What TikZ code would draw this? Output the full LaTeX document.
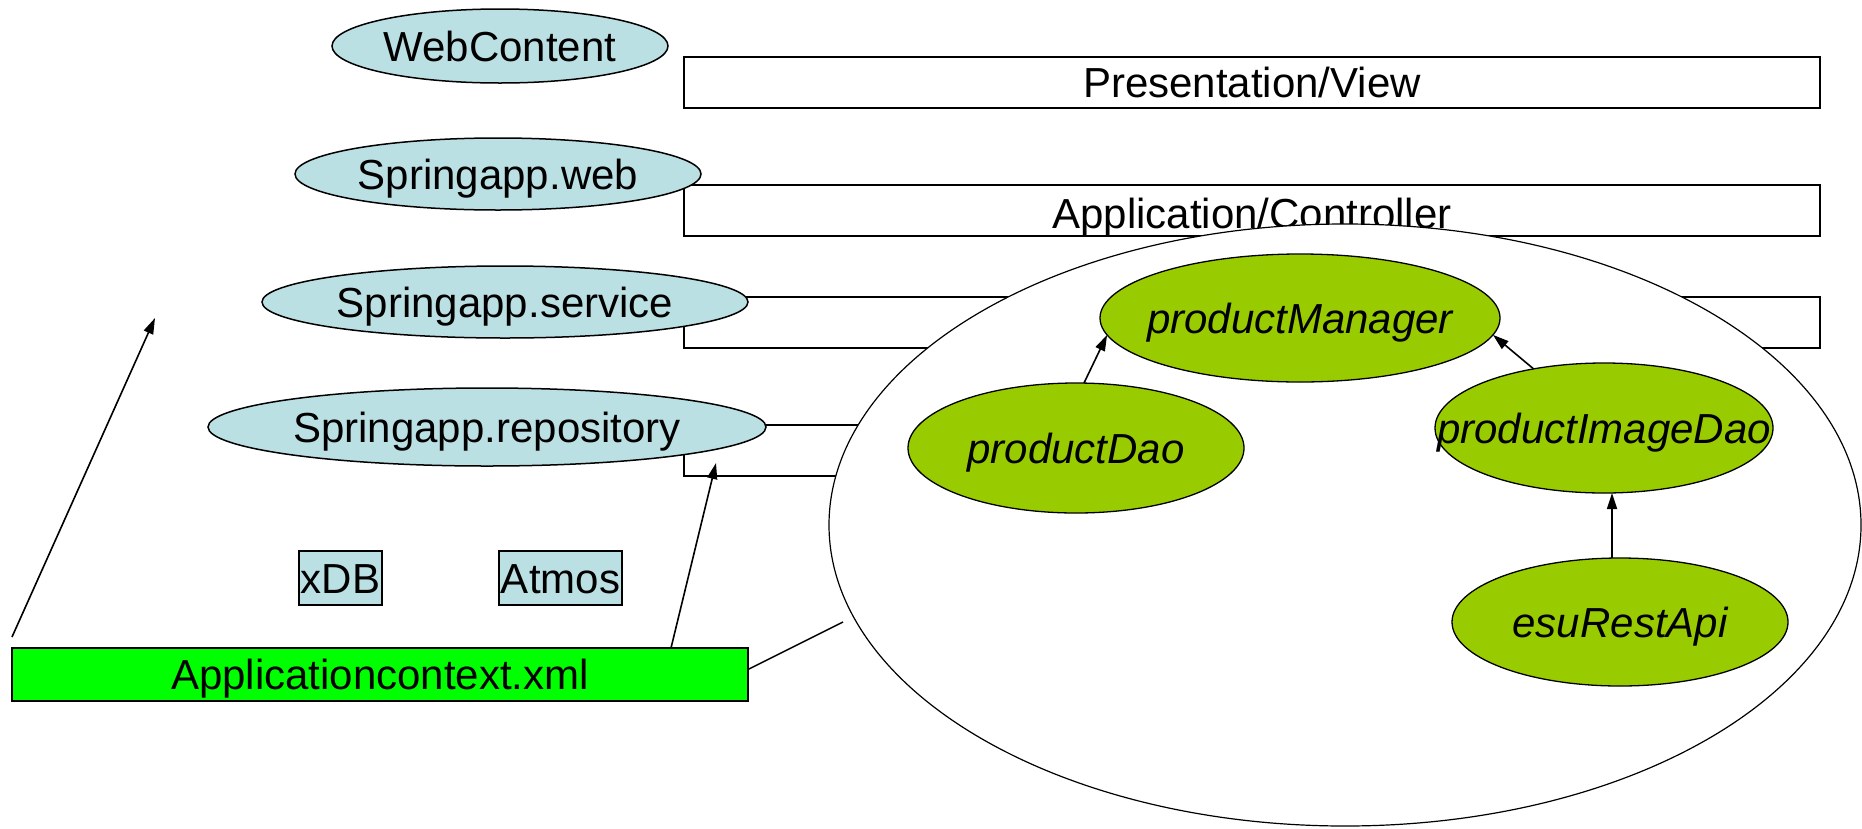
\documentclass[tikz,border=0pt]{standalone}
\usepackage{fontspec}
\setmainfont{Liberation Sans}
\usetikzlibrary{shapes.geometric,arrows.meta}
\definecolor{lblue}{HTML}{BBE0E3}
\definecolor{lgreen}{HTML}{99CC00}
\definecolor{bgreen}{HTML}{00FF00}
\begin{document}
\begin{tikzpicture}[x=1pt,y=-1pt,
  every node/.style={inner sep=0pt, outer sep=0pt},
  txt/.style={font=\fontsize{42}{50}\selectfont, text height=30pt, text depth=0pt},
  itxt/.style={font=\fontsize{42}{50}\selectfont\itshape, text height=30pt, text depth=0pt},
  layerbox/.style={draw, line width=2pt, minimum width=1136pt, minimum height=51pt, txt},
  pkg/.style={ellipse, draw, fill=lblue, line width=1.5pt},
  bean/.style={ellipse, draw, fill=lgreen, line width=1.3pt},
  libbox/.style={draw, fill=lblue, line width=1.5pt, minimum height=54pt, txt},
  arr/.style={line width=1.6pt, -{Triangle[length=16pt,width=10pt]}},
  plain/.style={line width=1.5pt},
]
\useasboundingbox (0,0) rectangle (1862,828);

% layer rectangles
\node[layerbox] (pres) at (1252,82.5) {Presentation/View};
\node[layerbox] (appl) at (1252,210) {};
\node[txt] (applText) at (1252,213) {Application/Controller};
\node[layerbox] (serv) at (1252,322) {};
\node[layerbox] (repo) at (1252,450.5) {};

% package ellipses
\node[pkg, minimum width=336pt, minimum height=74pt, label={[txt]center:WebContent}] (web) at (500,46) {};
\node[pkg, minimum width=406pt, minimum height=72pt, label={[txt]center:Springapp.web}] (sweb) at (498,174) {};
\node[pkg, minimum width=486pt, minimum height=72pt, label={[txt]center:Springapp.service}] (sserv) at (505,302) {};
\node[pkg, minimum width=558pt, minimum height=78pt, label={[txt]center:Springapp.repository}] (srepo) at (487,427) {};

% libraries
\node[libbox, minimum width=83pt] (xdb) at (340.5,578) {xDB};
\node[libbox, minimum width=123pt] (atmos) at (560.5,578) {Atmos};

% application context
\node[draw, fill=bgreen, line width=2pt, minimum width=736pt, minimum height=53pt, txt] (appctx) at (380,674.5) {Applicationcontext.xml};

% big context ellipse
\node[ellipse, draw, fill=white, line width=1.2pt, minimum width=1032pt, minimum height=602pt] (ctx) at (1345,525) {};

% beans
\node[bean, minimum width=400pt, minimum height=128pt, label={[itxt]center:productManager}] (pman) at (1300,318) {};
\node[bean, minimum width=336pt, minimum height=130pt, label={[itxt]center:productDao}] (pdao) at (1076,448) {};
\node[bean, minimum width=338pt, minimum height=130pt, label={[itxt]center:productImageDao}] (pimg) at (1604,428) {};
\node[bean, minimum width=336pt, minimum height=128pt, label={[itxt]center:esuRestApi}] (esu) at (1620,622) {};

% connectors
\coordinate (leftStart) at (12,637);
\coordinate (leftTip) at (155,318);
\coordinate (repoTip) at (716,463);
\coordinate (ctxEnd) at (843,622);

\draw[arr] (leftStart) -- (leftTip);
\draw[arr] ([xshift=659pt]appctx.north west) -- (repoTip);
\draw[plain] ([yshift=5pt]appctx.east) -- (ctxEnd);
\draw[arr] (pdao.83) -- (pman.185);
\draw[arr] (pimg.140) -- (pman.355);
\draw[arr] ([xshift=-8pt]esu.north) -- ([xshift=-8pt]esu.north |- pimg.south);
\end{tikzpicture}
\end{document}
